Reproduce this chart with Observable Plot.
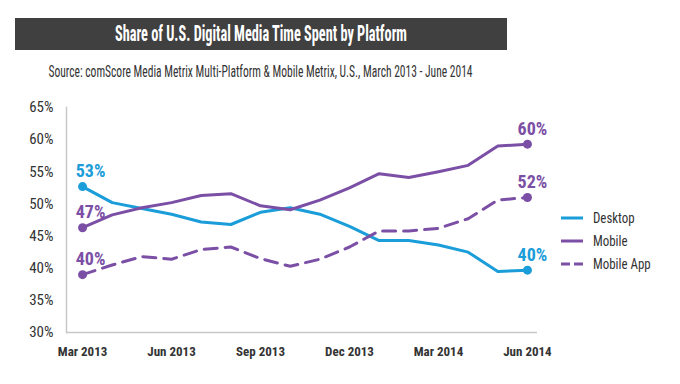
<!DOCTYPE html>
<html><head><meta charset="utf-8">
<script src="https://cdn.jsdelivr.net/npm/d3@7"></script>
<script src="https://cdn.jsdelivr.net/npm/@observablehq/plot@0.6"></script>
<style>
body{margin:0;background:#fff;width:680px;height:384px;position:relative;overflow:hidden;font-family:"Roboto Condensed","Liberation Sans Narrow","DejaVu Sans Condensed","Arial Narrow",sans-serif;font-stretch:condensed;color:#333;}
#titlebar{position:absolute;left:15px;top:18px;width:492px;height:32px;background:#404040;}
#title{position:absolute;left:-139px;top:18px;width:800px;height:32px;color:#fff;font-weight:bold;font-size:22px;line-height:32px;text-align:center;white-space:nowrap;}
#subtitle{position:absolute;left:-139px;top:62px;width:800px;text-align:center;font-size:16px;color:#333;white-space:nowrap;}
.fit{display:inline-block;transform-origin:50% 50%;}
#chart{position:absolute;left:0;top:90px;}
#legend{position:absolute;left:561px;top:206px;font-size:15px;}
#legend .row{height:23px;display:flex;align-items:center;}
#legend svg{margin-right:10px;}
#legend span{display:inline-block;transform:scaleX(0.86);transform-origin:0 50%;}
</style>
</head><body>
<div id="titlebar"></div>
<div id="title"><span class="fit" data-w="292">Share of U.S. Digital Media Time Spent by Platform</span></div>
<div id="subtitle"><span class="fit" data-w="424">Source: comScore Media Metrix Multi-Platform &amp; Mobile Metrix, U.S., March 2013 - June 2014</span></div>
<div id="chart"></div>
<div id="legend"></div>
<script>
const months = ["Mar 2013","Apr 2013","May 2013","Jun 2013","Jul 2013","Aug 2013","Sep 2013","Oct 2013","Nov 2013","Dec 2013","Jan 2014","Feb 2014","Mar 2014","Apr 2014","May 2014","Jun 2014"];
const xTicks = ["Mar 2013","Jun 2013","Sep 2013","Dec 2013","Mar 2014","Jun 2014"];
const yTicks = [30,35,40,45,50,55,60,65];
const desktop = [52.7,50.2,49.3,48.4,47.2,46.8,48.7,49.4,48.4,46.5,44.3,44.3,43.6,42.5,39.5,39.7];
const mobile = [46.3,48.3,49.4,50.2,51.3,51.6,49.7,49.1,50.6,52.5,54.7,54.1,55.0,56.0,59.0,59.3];
const mobileApp = [39.0,40.5,41.8,41.4,42.9,43.3,41.5,40.3,41.4,43.3,45.8,45.8,46.2,47.7,50.6,51.0];
const seriesNames = ["Desktop","Mobile","Mobile App"];
const seriesValues = [desktop, mobile, mobileApp];
const seriesColors = ["#1a9dd9","#7b4fa5","#7b4fa5"];
const seriesDash = [null, null, "13,8"];
const startLabels = ["53%","47%","40%"];
const endLabels = ["40%","60%","52%"];

const font = '"Roboto Condensed","Liberation Sans Narrow","DejaVu Sans Condensed","Arial Narrow",sans-serif';
const last = months.length - 1;
const marks = [
  Plot.ruleY([30], {stroke:"#c8c8c8", strokeWidth:1.5}),
  Plot.frame({anchor:"left", stroke:"#c8c8c8", strokeWidth:1.5}),
  Plot.axisY({ticks: yTicks, tickSize:0, tickPadding:13, tickFormat: d => d + "%", fontSize:15}),
  Plot.axisX({ticks: xTicks, tickSize:0, tickPadding:14, fontSize:13, fontWeight:"bold"})
];
seriesValues.forEach((vals, s) => {
  const c = seriesColors[s];
  marks.push(Plot.line(months, {x: d => d, y: (d,i) => vals[i], stroke: c, strokeWidth:3, strokeDasharray: seriesDash[s] || undefined}));
  marks.push(Plot.dot([months[0], months[last]], {x: d => d, y: (d,i) => i === 0 ? vals[0] : vals[last], r:4.5, fill: c}));
  marks.push(Plot.text([months[0]], {x: d => d, y: () => vals[0], text: () => startLabels[s], fill: c, dx:8, dy:-15, fontSize:18, fontWeight:"bold"}));
  marks.push(Plot.text([months[last]], {x: d => d, y: () => vals[last], text: () => endLabels[s], fill: c, dx:5, dy:-15, fontSize:18, fontWeight:"bold"}));
});

const chart = Plot.plot({
  width:680, height:290,
  marginLeft:66, marginRight:143, marginTop:17, marginBottom:48,
  x:{type:"point", domain: months, padding:0.44, align:0.615, round:false, label:null},
  y:{domain:[30,65], label:null},
  style:{fontFamily: font, fontSize:"14px", color:"#333", background:"transparent"},
  marks
});
document.getElementById("chart").appendChild(chart);

const legend = d3.select("#legend");
seriesNames.forEach((name, s) => {
  const row = legend.append("div").attr("class","row");
  const svg = row.append("svg").attr("width",22).attr("height",10);
  svg.append("line").attr("x1",0).attr("x2",22).attr("y1",5).attr("y2",5)
    .attr("stroke", seriesColors[s]).attr("stroke-width",3)
    .attr("stroke-dasharray", seriesDash[s] ? "9,4" : null);
  row.append("span").text(name);
});

document.querySelectorAll(".fit").forEach(el => {
  const w = el.getBoundingClientRect().width;
  const target = +el.dataset.w;
  if (w > 0) el.style.transform = `scaleX(${target / w})`;
});
</script>
</body></html>
